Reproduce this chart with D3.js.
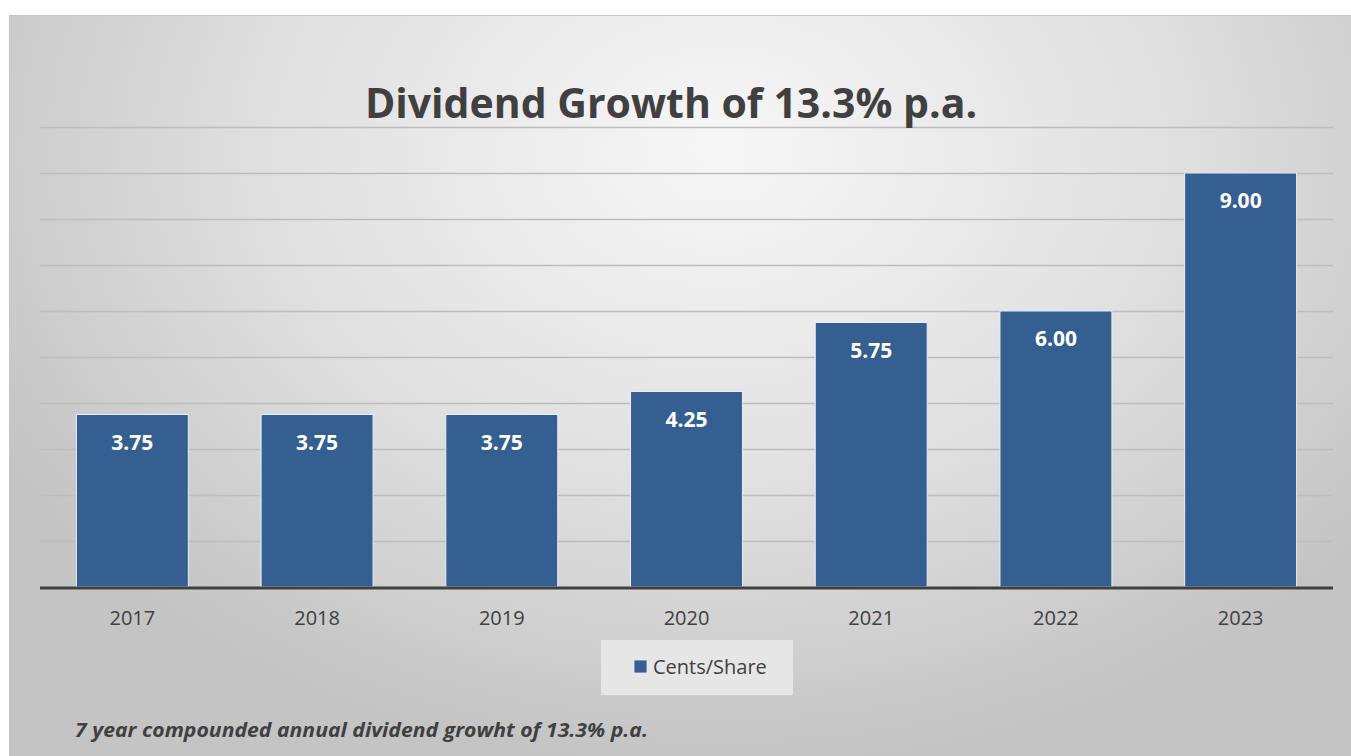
<!DOCTYPE html>
<html>
<head>
<meta charset="utf-8">
<script src="https://cdn.jsdelivr.net/npm/d3@7"></script>
<style>
  html, body { margin: 0; padding: 0; background: #fff; }
  svg { display: block; font-family: "Open Sans", sans-serif; }
</style>
</head>
<body>
<div id="chart"></div>
<script>
const width = 1351;
const height = 756;

const years = ["2017", "2018", "2019", "2020", "2021", "2022", "2023"];
const centsPerShare = [3.75, 3.75, 3.75, 4.25, 5.75, 6.00, 9.00];
const gridTicks = [0, 1, 2, 3, 4, 5, 6, 7, 8, 9, 10];

const title = "Dividend Growth of 13.3% p.a.";
const seriesName = "Cents/Share";
const footnote = "7 year compounded annual dividend growht of 13.3% p.a.";

const barColor = "#355f91";
const textColor = "#404040";

const margin = { top: 127, right: 18, bottom: 169, left: 40 };

const svg = d3.select("#chart")
    .append("svg")
    .attr("width", width)
    .attr("height", height);

const defs = svg.append("defs");
const grad = defs.append("radialGradient")
    .attr("id", "bg")
    .attr("gradientUnits", "userSpaceOnUse")
    .attr("cx", 720).attr("cy", 150).attr("r", 820)
    .attr("gradientTransform", "translate(720,150) scale(1,0.75) translate(-720,-150)");
grad.append("stop").attr("offset", "0%").attr("stop-color", "#f7f7f7");
grad.append("stop").attr("offset", "55%").attr("stop-color", "#e0e0e0");
grad.append("stop").attr("offset", "100%").attr("stop-color", "#c4c4c4");

// chart panel
svg.append("rect")
    .attr("x", 9.5).attr("y", 15.5)
    .attr("width", width - 9).attr("height", height - 15)
    .attr("fill", "url(#bg)")
    .attr("stroke", "#c6c6c6")
    .attr("stroke-width", 1);

const x = d3.scaleBand()
    .domain(years)
    .range([margin.left, width - margin.right])
    .paddingInner(0.394)
    .paddingOuter(0.197);

const y = d3.scaleLinear()
    .domain([0, 10])
    .range([height - margin.bottom, margin.top]);

// gridlines
svg.append("g")
    .selectAll("line")
    .data(gridTicks.filter(d => d > 0))
    .join("line")
    .attr("x1", margin.left)
    .attr("x2", width - margin.right)
    .attr("y1", d => Math.round(y(d)) + 0.5)
    .attr("y2", d => Math.round(y(d)) + 0.5)
    .attr("stroke", "#bdbdbd")
    .attr("stroke-width", 1.5);

// bars
svg.append("g")
    .selectAll("rect")
    .data(centsPerShare)
    .join("rect")
    .attr("x", (d, i) => x(years[i]))
    .attr("y", d => y(d))
    .attr("width", x.bandwidth())
    .attr("height", d => y(0) - y(d))
    .attr("fill", barColor)
    .attr("stroke", "#e8eef5")
    .attr("stroke-width", 1);

// value labels
svg.append("g")
    .selectAll("text")
    .data(centsPerShare)
    .join("text")
    .attr("x", (d, i) => x(years[i]) + x.bandwidth() / 2)
    .attr("y", d => y(d) + 35)
    .attr("text-anchor", "middle")
    .attr("fill", "#fff")
    .attr("font-size", 21)
    .attr("font-weight", "bold")
    .text(d => d.toFixed(2));

// baseline
svg.append("line")
    .attr("x1", margin.left)
    .attr("x2", width - margin.right)
    .attr("y1", y(0) + 1)
    .attr("y2", y(0) + 1)
    .attr("stroke", "#404040")
    .attr("stroke-width", 3);

// x axis
const xAxis = svg.append("g")
    .attr("transform", `translate(0,${y(0) + 2})`)
    .call(d3.axisBottom(x).tickSize(0).tickPadding(22));
xAxis.select(".domain").remove();
xAxis.selectAll("text")
    .attr("fill", textColor)
    .attr("font-size", 20)
    .attr("font-family", "Open Sans, sans-serif");

// title
svg.append("text")
    .attr("x", 671)
    .attr("y", 118)
    .attr("text-anchor", "middle")
    .attr("fill", textColor)
    .attr("font-size", 41)
    .attr("font-weight", "bold")
    .text(title);

// legend
const legend = svg.append("g").attr("transform", "translate(601,640)");
legend.append("rect")
    .attr("width", 192).attr("height", 55)
    .attr("fill", "#e6e6e6");
legend.append("rect")
    .attr("x", 33).attr("y", 20)
    .attr("width", 13).attr("height", 13)
    .attr("fill", barColor)
    .attr("stroke", "#e8eef5")
    .attr("stroke-width", 0.8);
legend.append("text")
    .attr("x", 52).attr("y", 34)
    .attr("fill", textColor)
    .attr("font-size", 20)
    .text(seriesName);

// footnote
svg.append("text")
    .attr("x", 75)
    .attr("y", 737)
    .attr("fill", textColor)
    .attr("font-size", 19)
    .attr("font-weight", "bold")
    .attr("font-style", "italic")
    .attr("textLength", 573)
    .attr("lengthAdjust", "spacingAndGlyphs")
    .text(footnote);
</script>
</body>
</html>
